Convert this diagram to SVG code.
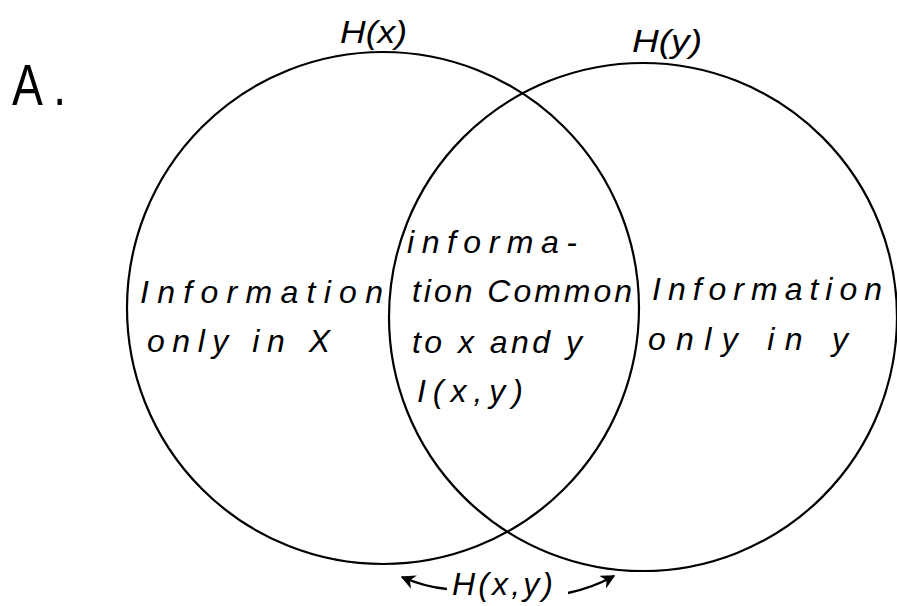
<svg xmlns="http://www.w3.org/2000/svg" width="897" height="606" viewBox="0 0 897 606">
<style>
.c{fill:none;stroke:#000;stroke-width:2.2}
.t{font-family:"Liberation Sans","DejaVu Sans",sans-serif;font-style:italic;fill:#000;font-size:32px}
.a{fill:none;stroke:#000;stroke-width:2.4}
</style>
<defs>
<marker id="ah" viewBox="0 0 10 10" refX="9" refY="5" markerWidth="6" markerHeight="6" orient="auto-start-reverse" markerUnits="strokeWidth">
<path d="M0,0 L10,5 L0,10 L3,5 Z" fill="#000"/>
</marker>
</defs>
<rect width="897" height="606" fill="#fff"/>
<text x="12" y="105" font-family="Liberation Sans,sans-serif" font-size="58" textLength="54" lengthAdjust="spacingAndGlyphs">A .</text>
<g id="circleX">
<circle class="c" cx="383" cy="308" r="256"/>
<text class="t" x="340" y="43" font-size="30" textLength="67" lengthAdjust="spacingAndGlyphs">H(x)</text>
</g>
<g id="circleY">
<circle class="c" cx="643" cy="317" r="254"/>
<text class="t" x="632" y="52" font-size="30" textLength="70" lengthAdjust="spacingAndGlyphs">H(y)</text>
</g>
<g id="onlyX">
<text class="t" x="140" y="303" textLength="243" lengthAdjust="spacing">Information</text>
<text class="t" x="147" y="352" textLength="183" lengthAdjust="spacing">only  in  X</text>
</g>
<g id="common">
<text class="t" x="407" y="253" textLength="170" lengthAdjust="spacing">informa-</text>
<text class="t" x="412" y="302" textLength="220" lengthAdjust="spacing">tion Common</text>
<text class="t" x="412" y="353" textLength="170" lengthAdjust="spacing">to x and y</text>
<text class="t" x="417" y="402" textLength="106" lengthAdjust="spacing">I(x,y)</text>
</g>
<g id="onlyY">
<text class="t" x="652" y="300" textLength="230" lengthAdjust="spacing">Information</text>
<text class="t" x="648" y="350" textLength="200" lengthAdjust="spacing">only   in   y</text>
</g>
<g id="joint">
<text class="t" x="452" y="595" textLength="101" lengthAdjust="spacing">H(x,y)</text>
</g>
<g id="connectors">
<path class="a" d="M447,589 Q425,587 402,577" marker-end="url(#ah)"/>
<path class="a" d="M568,593 Q592,588 614,576" marker-end="url(#ah)"/>
</g>
</svg>
